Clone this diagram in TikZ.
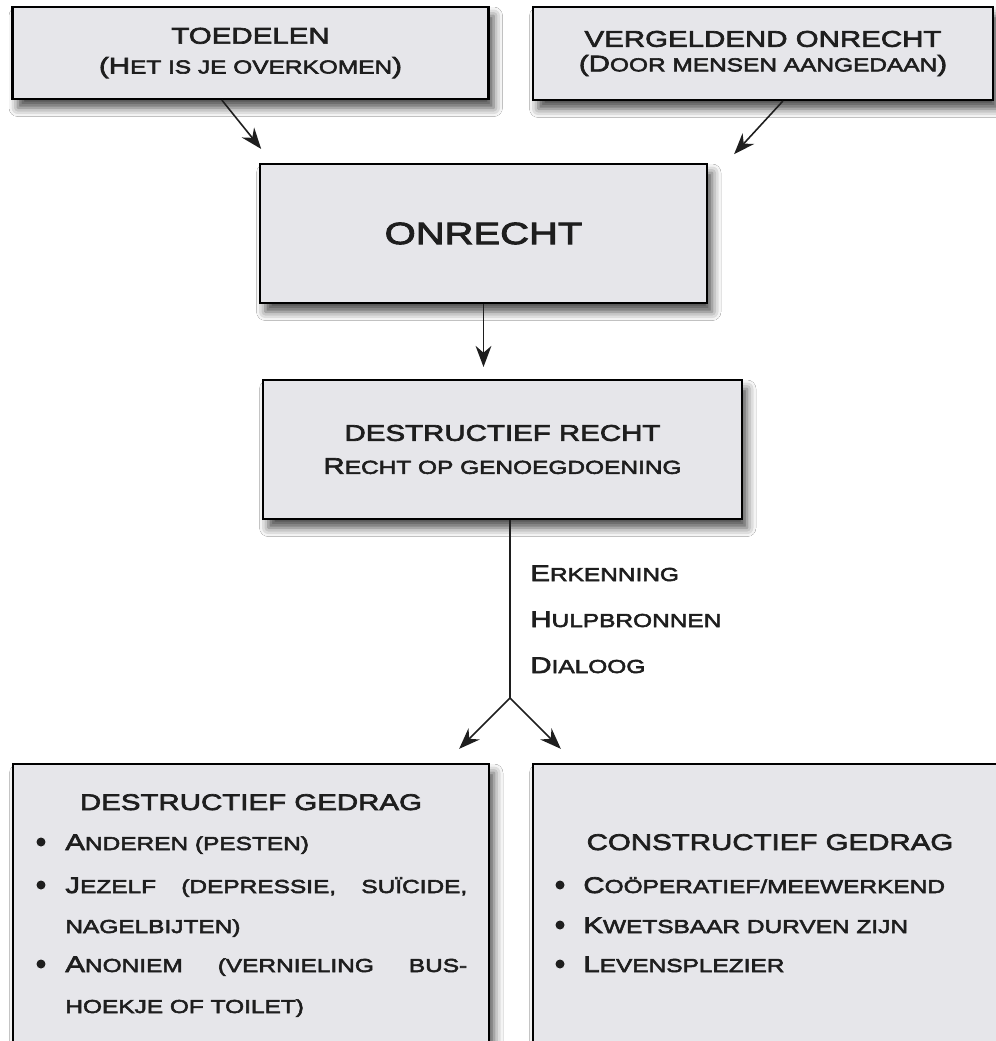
\documentclass[tikz,border=0pt]{standalone}
\usepackage{fontspec}
\setmainfont{Liberation Sans}[FakeStretch=1.3,FakeBold=3]
\usetikzlibrary{arrows.meta,calc,positioning,shadows.blur}
\definecolor{boxfill}{RGB}{230,230,234}
\definecolor{ink}{RGB}{30,30,30}
\newcommand\hdfont{\fontsize{12.9}{17}\selectfont}
\newcommand\lc[1]{{\fontsize{10.7}{14}\selectfont #1}}
\tikzset{
	box/.style={rectangle, draw=black, line width=1.2pt, fill=boxfill, inner sep=0pt, align=center, text=ink,
		blur shadow={shadow xshift=3pt, shadow yshift=-5pt, shadow blur radius=5pt, shadow opacity=70}},
	arr/.style={-{Stealth[length=12pt,width=9pt]}, line width=0.9pt, draw=ink},
	lbl/.style={anchor=base west, inner sep=0pt, text=ink, font=\hdfont},
}
\begin{document}
\begin{tikzpicture}[x=0.02cm, y=-0.02cm]
		\clip (0,0) rectangle (996,1041);
		\fill[white] (0,0) rectangle (996,1041);

		\node[box, minimum width=9.52cm, minimum height=1.84cm, font=\fontsize{12.9}{17}\selectfont] (toe) at (250.5,53) {TOEDELEN\\(H\lc{ET IS JE OVERKOMEN})};
		\node[box, minimum width=9.2cm, minimum height=1.86cm, font=\fontsize{12.9}{14}\selectfont] (verg) at (763,53.5) {VERGELDEND ONRECHT\\(D\lc{OOR MENSEN AANGEDAAN})};
		\node[box, minimum width=8.94cm, minimum height=2.78cm, font=\fontsize{17.5}{20}\selectfont] (onr) at (483.5,233.5) {ONRECHT};
		\node[box, minimum width=9.58cm, minimum height=2.78cm, font=\fontsize{12.9}{18.8}\selectfont] (dr) at (502.5,449.5) {DESTRUCTIEF RECHT\\R\lc{ECHT OP GENOEGDOENING}};
		\node[box, minimum width=9.52cm, minimum height=6.32cm] (dg) at (251,922) {};
		\node[box, minimum width=9.54cm, minimum height=6.32cm] (cg) at (771.5,922) {};

		\draw[arr, shorten >=0.36cm] ($(toe.south west)!0.44!(toe.south east)$) -- ($(onr.north west)!0.03!(onr.north east)$);
		\draw[arr, shorten >=0.24cm] ($(verg.south west)!0.543!(verg.south east)$) -- ($(onr.north east)+(18,0)$);
		\draw[arr, shorten >=0.24cm] (onr.south) -- (onr.south |- dr.north);

		\coordinate (split) at (510,698);
		\draw[line width=0.9pt, draw=ink] (split |- dr.south) -- (split);
		\draw[arr, shorten >=0.4cm] (split) -- ($(dg.north east)+(-45,0)$);
		\draw[arr, shorten >=0.4cm] (split) -- ($(cg.north west)+(43,0)$);

		\node[lbl] (erk) at (530,581) {E\lc{RKENNING}};
		\node[lbl] (hulp) at (530,627) {H\lc{ULPBRONNEN}};
		\node[lbl] (dia) at (530,673) {D\lc{IALOOG}};

		\node[lbl, anchor=base] (dghead) at (251,810) {DESTRUCTIEF GEDRAG};
		\node[lbl] (dg1) at (65,850) {A\lc{NDEREN (PESTEN)}};
		\node[lbl] (dg2) at (65,893) {\makebox[8.04cm][s]{J\lc{EZELF (DEPRESSIE, SUÏCIDE,}}};
		\node[lbl] (dg3) at (65,933) {\lc{NAGELBIJTEN)}};
		\node[lbl] (dg4) at (65,972) {\makebox[8.04cm][s]{A\lc{NONIEM (VERNIELING BUS-}}};
		\node[lbl] (dg5) at (65,1013) {\lc{HOEKJE OF TOILET)}};
		\foreach \y in {842,885,964}{
			\fill[ink] (41,\y) circle (0.09cm);
		}

		\node[lbl, anchor=base] (cghead) at (770,850) {CONSTRUCTIEF GEDRAG};
		\node[lbl] (cg1) at (583,893) {C\lc{OÖPERATIEF/MEEWERKEND}};
		\node[lbl] (cg2) at (583,933) {K\lc{WETSBAAR DURVEN ZIJN}};
		\node[lbl] (cg3) at (583,972) {L\lc{EVENSPLEZIER}};
		\foreach \y in {885,925,964}{
			\fill[ink] (560,\y) circle (0.09cm);
		}
	\end{tikzpicture}
\end{document}
